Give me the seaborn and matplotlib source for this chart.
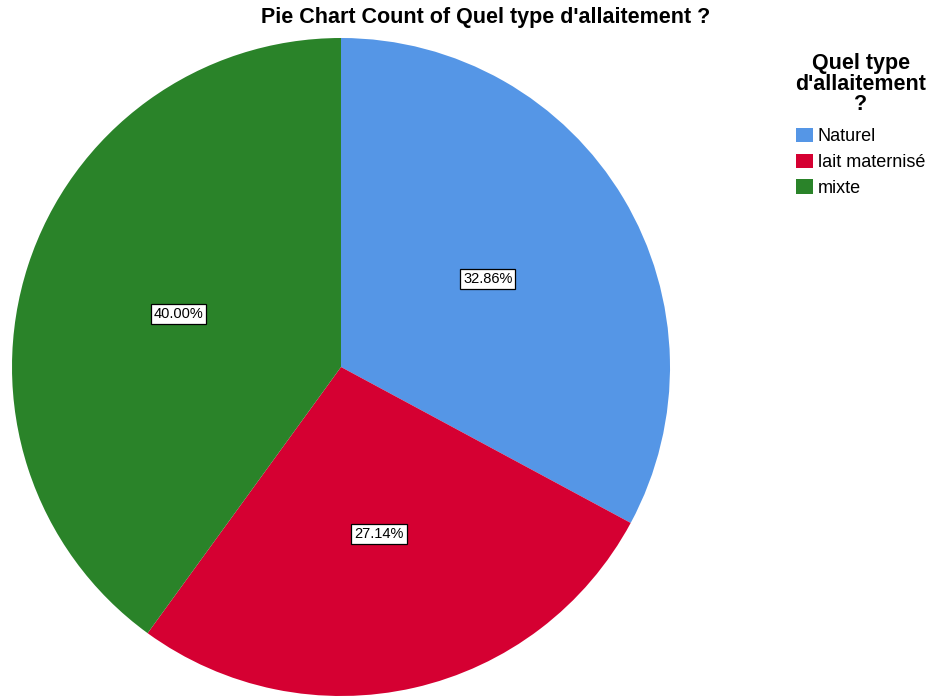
import matplotlib
matplotlib.use("Agg")
import matplotlib.pyplot as plt
import seaborn as sns
from matplotlib.patches import Patch

sns.set_theme(style="white")
plt.rcParams['font.family'] = ['Liberation Sans', 'DejaVu Sans']
plt.rcParams['text.color'] = 'black'

categories = ["Naturel", "lait maternisé", "mixte"]
percentages = [32.86, 27.14, 40.00]
colors = ["#5596e6", "#d50032", "#2a8329"]

fig = plt.figure(figsize=(9.38, 7.0), dpi=100)
ax = fig.add_axes([12/938, 4/700, 658/938, 658/700])

wedges, texts, autotexts = ax.pie(
    percentages, colors=colors, startangle=90, counterclock=False,
    autopct=lambda p: f"{p:.2f}%", pctdistance=0.52, radius=1,
    wedgeprops=dict(linewidth=0),
    textprops=dict(fontsize=10.5, color="black"))
for t in autotexts:
    t.set_bbox(dict(facecolor="white", edgecolor="black", boxstyle="square,pad=0.2", linewidth=0.9))
ax.set_xlim(-1, 1)
ax.set_ylim(-1, 1)
ax.set_aspect("equal")
ax.axis("off")

fig.text(486/938, 1 - 18/700, "Pie Chart Count of Quel type d'allaitement ?",
         ha="center", va="center", fontsize=15.5, fontweight="bold", color="black")

fig.text(861/938, 1 - 84/700, "Quel type\nd'allaitement\n?", ha="center", va="center",
         fontsize=15.5, fontweight="bold", linespacing=0.95, color="black")

handles = [Patch(facecolor=c, edgecolor="none") for c in colors]
leg = fig.legend(handles, categories, loc="upper left", bbox_to_anchor=(796/938, 1 - 128/700),
                 frameon=False, fontsize=13, handlelength=0.95, handleheight=0.85,
                 handletextpad=0.25, labelspacing=0.45, borderpad=0, borderaxespad=0)
for t in leg.get_texts():
    t.set_color("black")

fig.savefig("out.png", dpi=100)
